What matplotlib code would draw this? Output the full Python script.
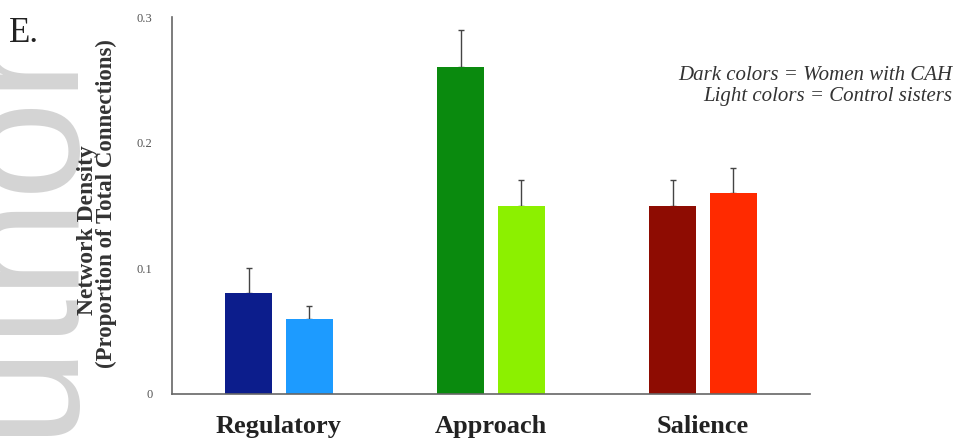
import numpy as np
import matplotlib
matplotlib.use("Agg")
import matplotlib.pyplot as plt

networks = ["Regulatory", "Approach", "Salience"]
cah_density = [0.08, 0.26, 0.15]
cah_err = [0.02, 0.03, 0.02]
control_density = [0.06, 0.15, 0.16]
control_err = [0.01, 0.02, 0.02]
dark_colors = ["#0c1d8c", "#0a8a0e", "#8e0c02"]
light_colors = ["#1d9bff", "#8cf000", "#ff2a00"]

plt.rcParams["font.family"] = ["Liberation Serif", "DejaVu Serif"]

fig = plt.figure(figsize=(9.6, 4.45), dpi=100)
# manuscript watermark behind the plot
fig.text(116 / 960, 1 - 40 / 445, "Author", rotation=90, ha="right", va="top",
         fontsize=128, color="#d4d4d4", family="Liberation Sans", zorder=0)

ax = fig.add_axes([172 / 960, 51 / 445, 638 / 960, 377 / 445])
ax.patch.set_alpha(0)

x = np.arange(len(networks))
off = 0.142
w = 0.222
ax.bar(x - off, cah_density, w, color=dark_colors, zorder=2)
ax.bar(x + off, control_density, w, color=light_colors, zorder=2)
ax.errorbar(x - off, cah_density, yerr=[np.zeros(3), cah_err], fmt="none",
            ecolor="#444444", elinewidth=1, capsize=2, capthick=1, zorder=1)
ax.errorbar(x + off, control_density, yerr=[np.zeros(3), control_err], fmt="none",
            ecolor="#444444", elinewidth=1, capsize=2, capthick=1, zorder=1)

ax.set_xlim(-0.505, 2.505)
ax.set_ylim(0, 0.3)
ax.set_yticks([0, 0.1, 0.2, 0.3])
ax.set_yticklabels(["0", "0.1", "0.2", "0.3"])
ax.tick_params(axis="y", length=0, labelsize=9, labelcolor="#555555", pad=14)
ax.set_xticks(x)
ax.set_xticklabels(networks, fontsize=19, fontweight="bold", color="#222222")
ax.tick_params(axis="x", length=0, pad=15)
for s in ["top", "right"]:
    ax.spines[s].set_visible(False)
for s in ["left", "bottom"]:
    ax.spines[s].set_color("#666666")
    ax.spines[s].set_linewidth(1.2)

fig.text(88 / 960, 1 - 230 / 445, "Network Density", rotation=90, ha="center",
         va="center", fontsize=17, fontweight="bold", color="#333333")
fig.text(106 / 960, 1 - 204 / 445, "(Proportion of Total Connections)", rotation=90,
         ha="center", va="center", fontsize=16.5, fontweight="bold", color="#333333")

fig.text(9 / 960, 1 - 33 / 445, "E.", fontsize=25, color="#222222", va="center")
fig.text(952 / 960, 1 - 75 / 445, "Dark colors = Women with CAH", fontsize=15,
         style="italic", ha="right", va="center", color="#333333")
fig.text(952 / 960, 1 - 97 / 445, "Light colors = Control sisters", fontsize=15,
         style="italic", ha="right", va="center", color="#333333")

fig.savefig("out.png", dpi=100)
